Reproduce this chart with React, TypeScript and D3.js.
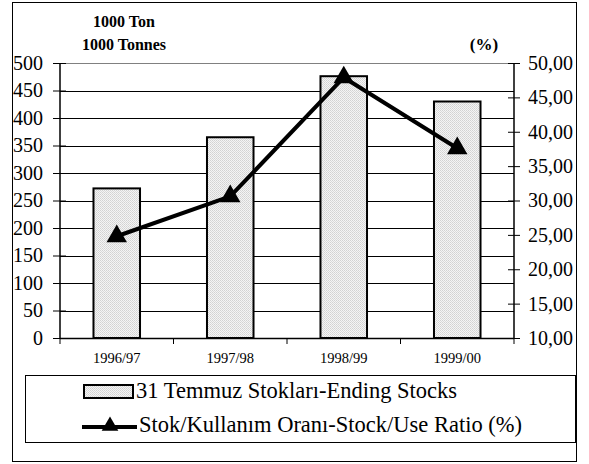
import { useEffect, useRef } from 'react';
import * as d3 from 'd3';

const seasons = ['1996/97', '1997/98', '1998/99', '1999/00'];
const endingStocks = [272, 365, 476, 430];
const stockUseRatio = [24.8, 30.6, 47.9, 37.6];
const leftTicks = [0, 50, 100, 150, 200, 250, 300, 350, 400, 450, 500];
const rightTicks = [10, 15, 20, 25, 30, 35, 40, 45, 50];

const W = 589;
const H = 464;
const serif = "'Liberation Serif', 'Times New Roman', serif";

export default function App() {
  const svgRef = useRef<SVGSVGElement>(null);

  useEffect(() => {
    if (!svgRef.current) return;
    const svg = d3.select(svgRef.current);
    svg.selectAll('*').remove();

    const left = 60, right = 514, top = 63, bottom = 338;

    const x = d3.scaleBand().domain(seasons).range([left, right]).paddingInner(0.59).paddingOuter(0.295);
    const xc = d3.scaleBand().domain(seasons).range([left, right]);
    const yL = d3.scaleLinear().domain([0, 500]).range([bottom, top]);
    const yR = d3.scaleLinear().domain([10, 50]).range([bottom, top]);

    // dotted fill
    const pat = svg.append('defs').append('pattern')
      .attr('id', 'dots').attr('width', 2).attr('height', 2)
      .attr('patternUnits', 'userSpaceOnUse');
    pat.append('rect').attr('width', 2).attr('height', 2).attr('fill', '#f4f4f4');
    pat.append('rect').attr('width', 1).attr('height', 1).attr('fill', '#d2d2d2');
    pat.append('rect').attr('x', 1).attr('y', 1).attr('width', 1).attr('height', 1).attr('fill', '#dadada');

    svg.append('rect').attr('width', W).attr('height', H).attr('fill', '#fff');

    // outer frame
    svg.append('rect')
      .attr('x', 12.5).attr('y', 2.5).attr('width', 564).attr('height', 459)
      .attr('fill', 'none').attr('stroke', '#000').attr('stroke-width', 1);

    // gridlines
    svg.append('g').selectAll('line').data(leftTicks.slice(1)).enter().append('line')
      .attr('x1', left).attr('x2', right)
      .attr('y1', d => Math.round(yL(d)) + 0.5).attr('y2', d => Math.round(yL(d)) + 0.5)
      .attr('stroke', (d) => (d === 500 ? '#808080' : '#000')).attr('stroke-width', 1);

    // bars
    svg.append('g').selectAll('rect').data(endingStocks).enter().append('rect')
      .attr('x', (_, i) => x(seasons[i])!)
      .attr('width', x.bandwidth())
      .attr('y', d => yL(d))
      .attr('height', d => bottom - yL(d))
      .attr('fill', 'url(#dots)')
      .attr('stroke', '#000').attr('stroke-width', 2);

    // left axis
    const la = svg.append('g').attr('transform', `translate(${left},0)`)
      .call(d3.axisLeft(yL).tickValues(leftTicks).tickSize(3).tickFormat(d3.format('d')));
    la.select('.domain').attr('stroke', '#000').attr('stroke-width', 1.5).attr('d', `M0,${top}V${bottom}`);
    la.selectAll('.tick line').attr('x1', -7).attr('x2', 6).attr('stroke', '#000');
    la.selectAll('.tick text').attr('x', -17).style('font-family', serif).attr('font-size', 20).attr('fill', '#000');

    // right axis
    const ra = svg.append('g').attr('transform', `translate(${right},0)`)
      .call(d3.axisRight(yR).tickValues(rightTicks).tickSize(6)
        .tickFormat(d => d3.format('.2f')(d as number).replace('.', ',')));
    ra.select('.domain').attr('stroke', '#000').attr('stroke-width', 1.5).attr('d', `M0,${top}V${bottom}`);
    ra.selectAll('.tick line').attr('x1', -6).attr('x2', 6).attr('stroke', '#000');
    ra.selectAll('.tick text').attr('x', 14).style('font-family', serif).attr('font-size', 20).attr('fill', '#000');

    // bottom axis
    svg.append('line').attr('x1', left).attr('x2', right).attr('y1', bottom + 0.5).attr('y2', bottom + 0.5)
      .attr('stroke', '#000').attr('stroke-width', 1.5);
    svg.append('g').selectAll('line').data(seasons.concat(['end'])).enter().append('line')
      .attr('x1', (d, i) => (i < seasons.length ? xc(d)! : right))
      .attr('x2', (d, i) => (i < seasons.length ? xc(d)! : right))
      .attr('y1', bottom).attr('y2', bottom + 6).attr('stroke', '#000');
    svg.append('g').selectAll('text').data(seasons).enter().append('text')
      .attr('x', d => xc(d)! + xc.bandwidth() / 2)
      .attr('y', 363)
      .attr('text-anchor', 'middle')
      .style('font-family', serif).attr('font-size', 14.5).text(d => d);

    // ratio line
    const pts = stockUseRatio.map((v, i) => [xc(seasons[i])! + xc.bandwidth() / 2, yR(v)] as [number, number]);
    svg.append('path').attr('d', d3.line()(pts)).attr('fill', 'none')
      .attr('stroke', '#000').attr('stroke-width', 4).attr('stroke-linejoin', 'round');
    const tri = d3.symbol().type(d3.symbolTriangle).size(180);
    svg.append('g').selectAll('path').data(pts).enter().append('path')
      .attr('d', tri).attr('transform', d => `translate(${d[0]},${d[1]})`).attr('fill', '#000');

    // unit titles
    svg.append('text').attr('x', 124).attr('y', 27).attr('text-anchor', 'middle')
      .style('font-family', serif).attr('font-weight', 'bold').attr('font-size', 16).text('1000 Ton');
    svg.append('text').attr('x', 124).attr('y', 50).attr('text-anchor', 'middle')
      .style('font-family', serif).attr('font-weight', 'bold').attr('font-size', 16).text('1000 Tonnes');
    svg.append('text').attr('x', 484).attr('y', 50).attr('text-anchor', 'middle')
      .style('font-family', serif).attr('font-weight', 'bold').attr('font-size', 17).text('(%)');

    // legend
    svg.append('rect').attr('x', 25.5).attr('y', 375.5).attr('width', 550).attr('height', 67)
      .attr('fill', '#fff').attr('stroke', '#000');
    svg.append('rect').attr('x', 84).attr('y', 385).attr('width', 49).attr('height', 13)
      .attr('fill', 'url(#dots)').attr('stroke', '#000').attr('stroke-width', 2);
    svg.append('text').attr('x', 136).attr('y', 398).style('font-family', serif).attr('font-size', 22.5)
      .text('31 Temmuz Stokları-Ending Stocks');
    svg.append('line').attr('x1', 82).attr('x2', 137).attr('y1', 427).attr('y2', 427)
      .attr('stroke', '#000').attr('stroke-width', 4);
    svg.append('path').attr('d', d3.symbol().type(d3.symbolTriangle).size(120))
      .attr('transform', 'translate(110,426)').attr('fill', '#000');
    svg.append('text').attr('x', 139).attr('y', 432).style('font-family', serif).attr('font-size', 22.5)
      .text('Stok/Kullanım Oranı-Stock/Use Ratio (%)');
  }, []);

  return (
    <svg ref={svgRef} width={W} height={H}
      style={{ position: 'absolute', left: 0, top: 0, display: 'block' }} />
  );
}
